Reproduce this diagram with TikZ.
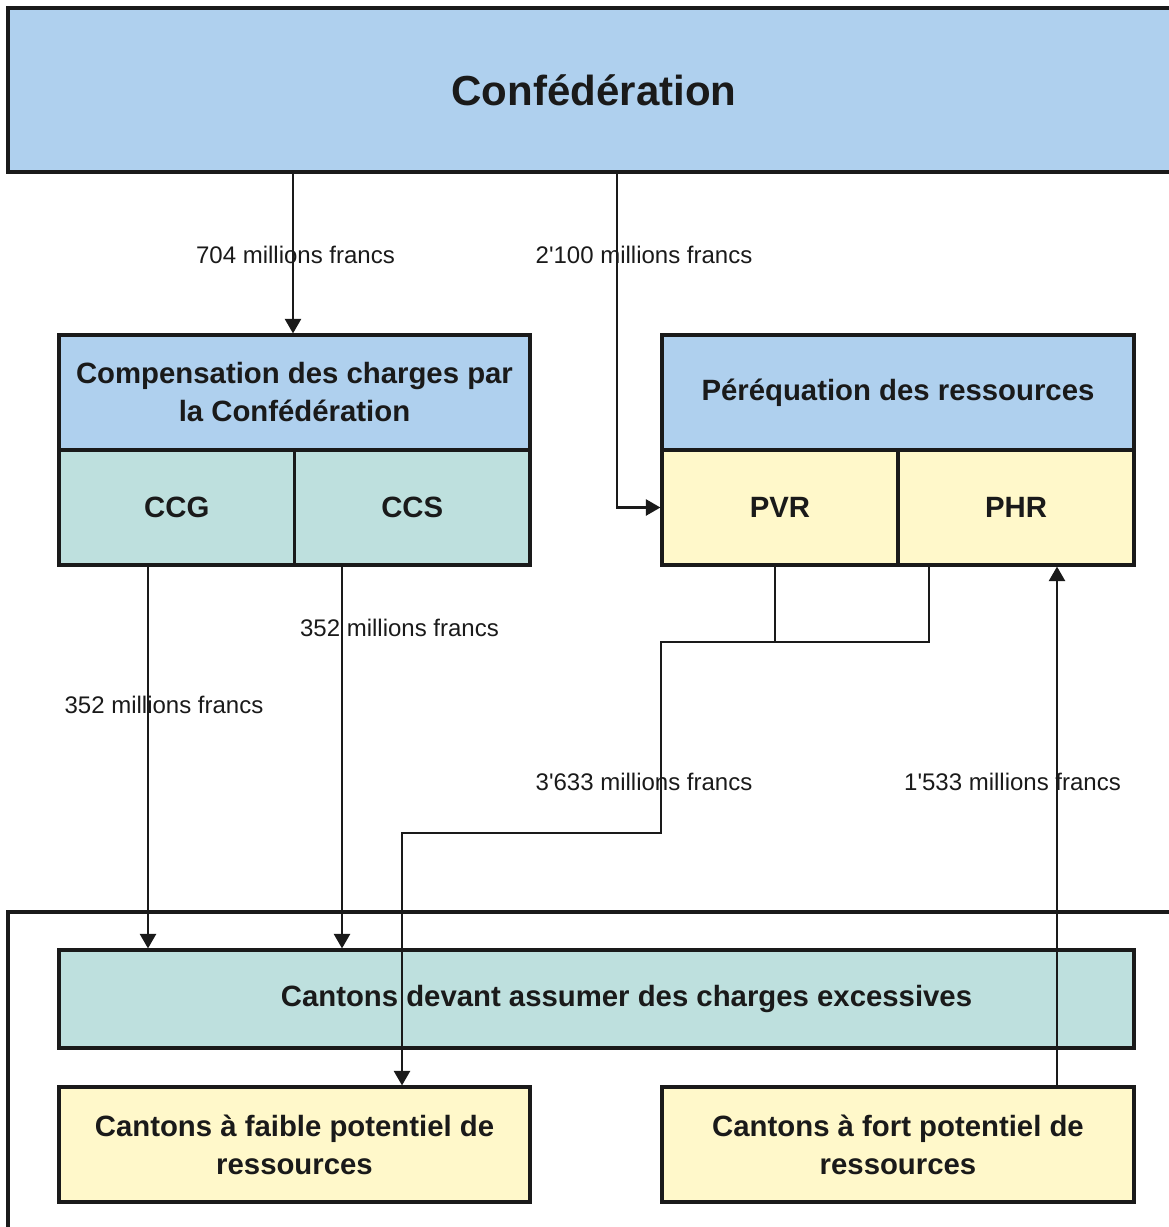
\documentclass[tikz,border=0pt]{standalone}
\usepackage{fontspec}
\setmainfont{Liberation Sans}
\usepackage{xcolor}
\usepackage{tikz}
\usetikzlibrary{arrows.meta}

\definecolor{confblue}{RGB}{175,208,238}
\definecolor{celteal}{RGB}{190,224,222}
\definecolor{potyellow}{RGB}{255,248,202}
\definecolor{inkgray}{RGB}{26,26,26}

\begin{document}
\begin{tikzpicture}%
                [x=0.75pt,
                y=-0.75pt,
                box/.style={draw=inkgray, line width=2.3pt, inner sep=0pt, align=center, text=inkgray,
                            font=\bfseries\fontsize{22}{28.5}\selectfont},
                headbox/.style={box, fill=confblue},
                cellbox/.style={box, fill=celteal},
                potbox/.style={box, fill=potyellow},
                half/.style={minimum width=353.25pt, minimum height=86.25pt},
                quarter/.style={minimum width=176.6pt, minimum height=86.25pt},
                flow/.style={draw=inkgray, line width=2.1pt},
                arr/.style={flow, -{Triangle[length=11pt,width=12pt]}},
                amount/.style={inner sep=0pt, text=inkgray, font=\fontsize{18}{21}\selectfont}]
            %
            \useasboundingbox (0,0) rectangle (1168,1227);
            %
            %% Frame round the cantons
            \draw[flow, line width=2.3pt] (8,1240) |- (1180,912);
            %
            %% Drawing the boxes
            \node[headbox, minimum width=879pt, minimum height=123pt,
                  font=\bfseries\fontsize{31.5}{36}\selectfont] (conf) at (594,90) {Confédération};
            %
            \node[headbox, half] (comp) at (294.5,392.5) {Compensation des charges par\\la Confédération};
            \node[cellbox, quarter] (ccg) at (176.75,507.5) {CCG};
            \node[cellbox, quarter] (ccs) at (412.25,507.5) {CCS};
            %
            \node[headbox, half, minimum width=354pt] (pereq) at (898,392.5) {Péréquation des ressources};
            \node[potbox, quarter, minimum width=177pt] (pvr) at (780,507.5) {PVR};
            \node[potbox, quarter, minimum width=177pt] (phr) at (1016,507.5) {PHR};
            %
            \node[cellbox, minimum width=806.25pt, minimum height=73.5pt] (devant) at (596.5,999)
                  {\hspace*{45pt}Cantons devant assumer des charges excessives};
            \node[potbox, half] (faible) at (294.5,1144.5) {Cantons à faible potentiel de\\ressources};
            \node[potbox, half, minimum width=354pt] (fort) at (898,1144.5) {Cantons à fort potentiel de\\ressources};
            %
            %% Coordinates of the flows
            \coordinate (c704) at (293,0);
            \coordinate (c2100) at (617,0);
            \coordinate (cgen) at (148,0);
            \coordinate (cspec) at (342,0);
            \coordinate (jpvr) at (775,642);
            \coordinate (jphr) at (929,642);
            \coordinate (jleft) at (661,642);
            \coordinate (jlow) at (402,833);
            \coordinate (c1533) at (1057,0);
            %
            %% Drawing the flows
            \draw[arr] (conf.south -| c704) -- (comp.north -| c704);
            \draw[arr] (conf.south -| c2100) |- (pvr.west);
            \draw[arr] (ccg.south -| cgen) -- (devant.north -| cgen);
            \draw[arr] (ccs.south -| cspec) -- (devant.north -| cspec);
            \draw[flow] (pvr.south -| jpvr) -- (jpvr);
            \draw[arr] (phr.south -| jphr) |- (jleft) |- (jlow) -- (faible.north -| jlow);
            \draw[arr] (fort.north -| c1533) -- (phr.south -| c1533);
            %
            %% Drawing the amounts
            \node[amount] (l704) at (295.5,255) {704 millions francs};
            \node[amount] (l2100) at (644,255) {2\textquotesingle 100 millions francs};
            \node[amount] (lgen) at (164,705) {352 millions francs};
            \node[amount] (lspec) at (399.5,628) {352 millions francs};
            \node[amount] (l3633) at (644,782) {3\textquotesingle 633 millions francs};
            \node[amount] (l1533) at (1012.5,782) {1\textquotesingle 533 millions francs};
            %
            \end{tikzpicture}
\end{document}
